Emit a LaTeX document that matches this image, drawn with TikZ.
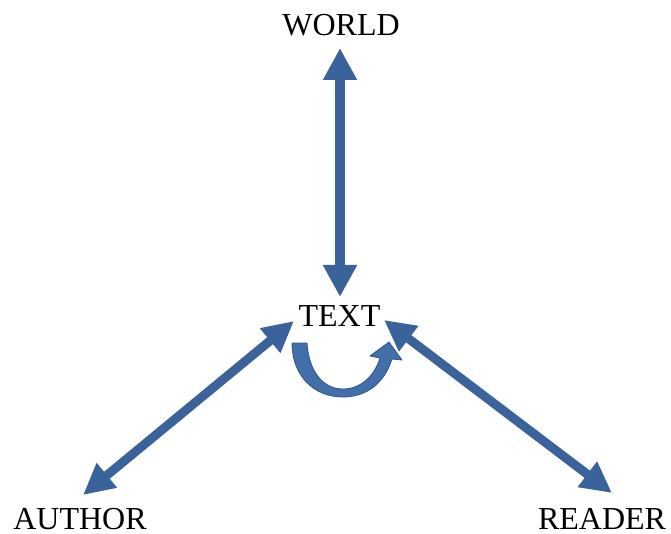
\documentclass[tikz,border=0pt]{standalone}
\usepackage{fontspec}
\setmainfont{Liberation Serif}
\usetikzlibrary{arrows.meta}
\definecolor{arrowblue}{RGB}{58,99,156}
\definecolor{curveblue}{RGB}{66,110,170}
\definecolor{curvedark}{RGB}{48,86,140}
\tikzset{
  lbl/.style={inner sep=0pt, anchor=base, font=\fontsize{32}{38}\selectfont},
  vertarrow/.style={line width=10pt, draw=arrowblue,
    {Triangle[width=32pt,length=32pt]}-{Triangle[width=32pt,length=32pt]}},
  diagarrow/.style={line width=9pt, draw=arrowblue,
    {Triangle[width=30pt,length=31pt]}-{Triangle[width=30pt,length=31pt]}},
  curvearrow/.style={fill=curveblue, draw=curvedark, line width=0.8pt, line join=round}
}
\begin{document}
\begin{tikzpicture}[x=1pt,y=-1pt]
\useasboundingbox (0,0) rectangle (671,534);
% labels
\node[lbl] (WORLD) at (341,36) {WORLD};
\node[lbl] (TEXT) at (339.5,326.5) {TEXT};
\node[lbl] (AUTHOR) at (80,529) {AUTHOR};
\node[lbl] (READER) at (602,529) {READER};
% connector ends
\coordinate (wt) at ([shift={(-1,12)}]WORLD.base);
\coordinate (tt) at ([shift={(0.5,-29.5)}]TEXT.base);
\coordinate (tl) at ([shift={(-45.5,-5.5)}]TEXT.base);
\coordinate (tr) at ([shift={(44.5,-6.5)}]TEXT.base);
\coordinate (at) at ([shift={(3,-34)}]AUTHOR.base);
\coordinate (rt) at ([shift={(10,-36)}]READER.base);
% connectors
\draw[vertarrow] (wt) -- (tt);
\draw[diagarrow] (at) -- (tl);
\draw[diagarrow] (tr) -- (rt);
% curved self arrow below TEXT
\filldraw[curvearrow]
  (292,343) -- (307,343)
  .. controls (309,373) and (324,389) .. (343,389)
  .. controls (360,389) and (374,377) .. (380,358)
  -- (370,356) -- (389,342) -- (402,360) -- (392,359)
  .. controls (384,384) and (366,397) .. (343,397)
  .. controls (313,397) and (292,375) .. (292,343) -- cycle;
\end{tikzpicture}
\end{document}
